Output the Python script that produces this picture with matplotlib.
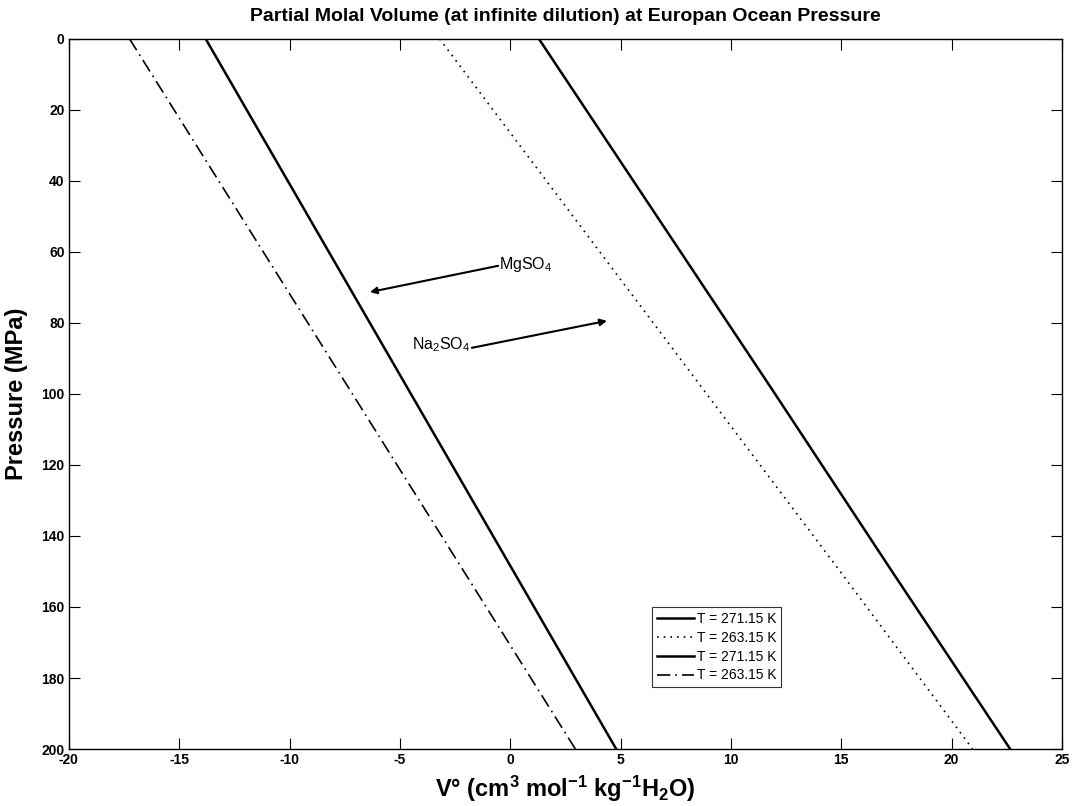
import matplotlib
matplotlib.use("Agg")
import matplotlib.pyplot as plt

plt.rcParams["font.family"] = ["Liberation Sans", "DejaVu Sans"]
plt.rcParams["mathtext.fontset"] = "custom"
plt.rcParams["mathtext.rm"] = "Liberation Sans"
plt.rcParams["mathtext.bf"] = "Liberation Sans:bold"
plt.rcParams["axes.unicode_minus"] = False

# pressure (MPa) and partial molal volume at infinite dilution
pressure = [0, 50, 100, 150, 200]
na2so4_271 = [1.3, 6.65, 12.0, 17.3, 22.65]
na2so4_263 = [-3.2, 2.85, 8.9, 14.95, 20.95]
mgso4_271 = [-13.8, -9.15, -4.5, 0.15, 4.8]
mgso4_263 = [-17.25, -12.2, -7.15, -2.1, 2.95]

labels = ["T = 271.15 K", "T = 263.15 K", "T = 271.15 K", "T = 263.15 K"]
xticks = [-20, -15, -10, -5, 0, 5, 10, 15, 20, 25]
yticks = [0, 20, 40, 60, 80, 100, 120, 140, 160, 180, 200]

fig = plt.figure(figsize=(10.76, 8.06), dpi=100)
ax = fig.add_axes([0.064, 0.0707, 0.923, 0.881])

ax.plot(na2so4_271, pressure, color="black", lw=1.8, label=labels[0])
ax.plot(na2so4_263, pressure, color="black", lw=1.2, ls=(0, (1, 3)), label=labels[1])
ax.plot(mgso4_271, pressure, color="black", lw=1.8, label=labels[2])
ax.plot(mgso4_263, pressure, color="black", lw=1.2, ls=(0, (8, 3, 1, 3)), label=labels[3])

ax.set_xlim(-20, 25)
ax.set_ylim(200, 0)
ax.set_xticks(xticks)
ax.set_yticks(yticks)
ax.tick_params(direction="in", top=True, right=True, length=8, width=0.8,
               labelsize=10, pad=3)
for lab in ax.get_xticklabels() + ax.get_yticklabels():
    lab.set_fontweight("bold")
for s in ax.spines.values():
    s.set_linewidth(1.0)

ax.set_title("Partial Molal Volume (at infinite dilution) at Europan Ocean Pressure",
             fontsize=14, fontweight="bold", pad=13)
ax.set_xlabel(r"V° (cm$\mathbf{^3}$ mol$\mathbf{^{-1}}$ kg$\mathbf{^{-1}}$H$\mathbf{_2}$O)",
              fontsize=17, fontweight="bold", labelpad=5)
ax.set_ylabel("Pressure (MPa)", fontsize=17, fontweight="bold", labelpad=10)

arrow = dict(arrowstyle="-|>", color="black", lw=1.5, mutation_scale=10,
             shrinkA=0, shrinkB=0)
ax.annotate("", xy=(-6.36, 71.3), xytext=(-0.55, 63.9), arrowprops=arrow)
ax.text(-0.5, 63.6, r"MgSO$_4$", fontsize=11.5, ha="left", va="center")
ax.annotate("", xy=(4.38, 79.4), xytext=(-1.74, 87.0), arrowprops=arrow)
ax.text(-1.8, 86.0, r"Na$_2$SO$_4$", fontsize=11.5, ha="right", va="center")

leg = ax.legend(loc="lower left", bbox_to_anchor=(0.587, 0.087), fontsize=10,
                frameon=True, fancybox=False, edgecolor="black", handlelength=2.7,
                handletextpad=0.2, borderpad=0.35, labelspacing=0.35,
                borderaxespad=0)
leg.get_frame().set_linewidth(0.8)

fig.savefig("out.png", dpi=100)
